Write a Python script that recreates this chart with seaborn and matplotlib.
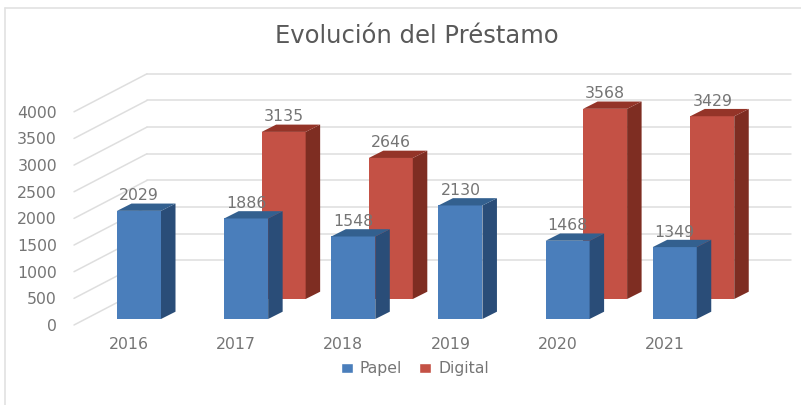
import matplotlib
matplotlib.use("Agg")
import matplotlib.pyplot as plt
from matplotlib.lines import Line2D
from matplotlib.patches import Patch, Polygon
from matplotlib.transforms import ScaledTranslation
import numpy as np
import seaborn as sns

years = ["2016", "2017", "2018", "2019", "2020", "2021"]
papel = [2029, 1886, 1548, 2130, 1468, 1349]
digital = [np.nan, 3135, 2646, np.nan, 3568, 3429]
y_ticks = [0, 500, 1000, 1500, 2000, 2500, 3000, 3500, 4000]

W, H, DPI = 801, 405, 100
PX_X = 107.15      # pixels per category
PX_Y = 0.0533      # pixels per value unit
X0, Y0 = 139, 319  # pixel of first category centre / of value 0
L, R, T, B = 74, 791, 60, 332

GREY = "#757575"
BLUE = ("#4a7ebb", "#2a4d78", "#33608f")
RED = ("#c45145", "#7e2d22", "#943428")

sns.set_style("white")
plt.rcParams["font.family"] = ["DejaVu Sans"]
fig = plt.figure(figsize=(W / DPI, H / DPI), dpi=DPI)
ax = fig.add_axes([L / W, 1 - B / H, (R - L) / W, (B - T) / H])

sns.barplot(x=years, y=digital, color=RED[0], saturation=1, width=44 / PX_X, ax=ax, order=years)
n_red = len(ax.patches)
sns.barplot(x=years, y=papel, color=BLUE[0], saturation=1, width=44 / PX_X, ax=ax, order=years)

ax.set_xlim((L - X0) / PX_X, (R - X0) / PX_X)
ax.set_ylim((Y0 - B) / PX_Y, (Y0 - T) / PX_Y)


def dx(px):
    return px / PX_X


def dy(px):
    return px / PX_Y


# walls: slanted front lines plus horizontal back lines
for v in y_ticks:
    xs = [(L - X0) / PX_X, (147 - X0) / PX_X]
    ys = [v + dy(-6), v + dy(32)]
    ax.plot(xs, ys, color="#dedede", lw=1.1, zorder=1, clip_on=False)
    if v > 0:
        ax.plot([(147 - X0) / PX_X, (R - X0) / PX_X], [v + dy(32)] * 2,
                color="#dedede", lw=1.1, zorder=1, clip_on=False)


def extrude(patches, colors, z, shift_x, shift_y, values):
    """Give each seaborn bar a side and a top face and a value label."""
    for patch in patches:
        cat = int(round(patch.get_x() + patch.get_width() / 2))
        val = values[cat]
        patch.set_x(patch.get_x() + shift_x)
        patch.set_y(patch.get_y() + shift_y)
        patch.set_zorder(z)
        patch.set_edgecolor("none")
        x0, x1 = patch.get_x(), patch.get_x() + patch.get_width()
        y0, y1 = patch.get_y(), patch.get_y() + patch.get_height()
        ox, oy = dx(14.5), dy(7.3)
        ax.add_patch(Polygon([(x1, y0), (x1 + ox, y0 + oy), (x1 + ox, y1 + oy), (x1, y1)],
                             facecolor=colors[1], edgecolor="none", zorder=z))
        ax.add_patch(Polygon([(x0, y1), (x1, y1), (x1 + ox, y1 + oy), (x0 + ox, y1 + oy)],
                             facecolor=colors[2], edgecolor="none", zorder=z))
        ax.annotate(f"{val:.0f}", ((x0 + x1) / 2, y1), xytext=(0, 15 * 72 / DPI),
                    textcoords="offset points", ha="center", va="center",
                    fontsize=11.3, color=GREY, zorder=z + 0.5)


bars = list(ax.patches)
extrude(bars[:n_red], RED, 2, dx(37.5), dy(20), digital)
extrude(bars[n_red:], BLUE, 3, 0, 0, papel)

ax.set_yticks(y_ticks)
ax.set_xticks(range(len(years)))
ax.set_xticklabels(years)
ax.tick_params(axis="both", length=0, labelsize=11.3, labelcolor=GREY)
ax.tick_params(axis="y", pad=17 * 72 / DPI)
ax.tick_params(axis="x", pad=(343 - 6 - B) * 72 / DPI)
for lab in ax.get_yticklabels():
    lab.set_transform(lab.get_transform() + ScaledTranslation(0, -6 / DPI, fig.dpi_scale_trans))
for lab in ax.get_xticklabels():
    lab.set_transform(lab.get_transform() + ScaledTranslation(-10 / DPI, 0, fig.dpi_scale_trans))
sns.despine(ax=ax, left=True, bottom=True, top=True, right=True)
ax.patch.set_alpha(0)
ax.set_xlabel("")
ax.set_ylabel("")

fig.text(417 / W, 1 - 36 / H, "Evolución del Préstamo", ha="center", va="center",
         fontsize=17.5, color="#595959")

fig.legend(handles=[Patch(facecolor=BLUE[0], label="Papel"), Patch(facecolor=RED[0], label="Digital")],
           loc="center", bbox_to_anchor=(415 / W, 1 - 369 / H), ncol=2, frameon=False,
           fontsize=11.3, labelcolor=GREY, handlelength=0.75, handleheight=0.6,
           handletextpad=0.45, columnspacing=1.1)

fig.add_artist(Line2D([5 / W, 5 / W], [0, 1 - 8 / H], color="#e2e2e2", lw=1.2))
fig.add_artist(Line2D([5 / W, 1], [1 - 8 / H, 1 - 8 / H], color="#e2e2e2", lw=1.2))

fig.savefig("out.png", dpi=DPI)
